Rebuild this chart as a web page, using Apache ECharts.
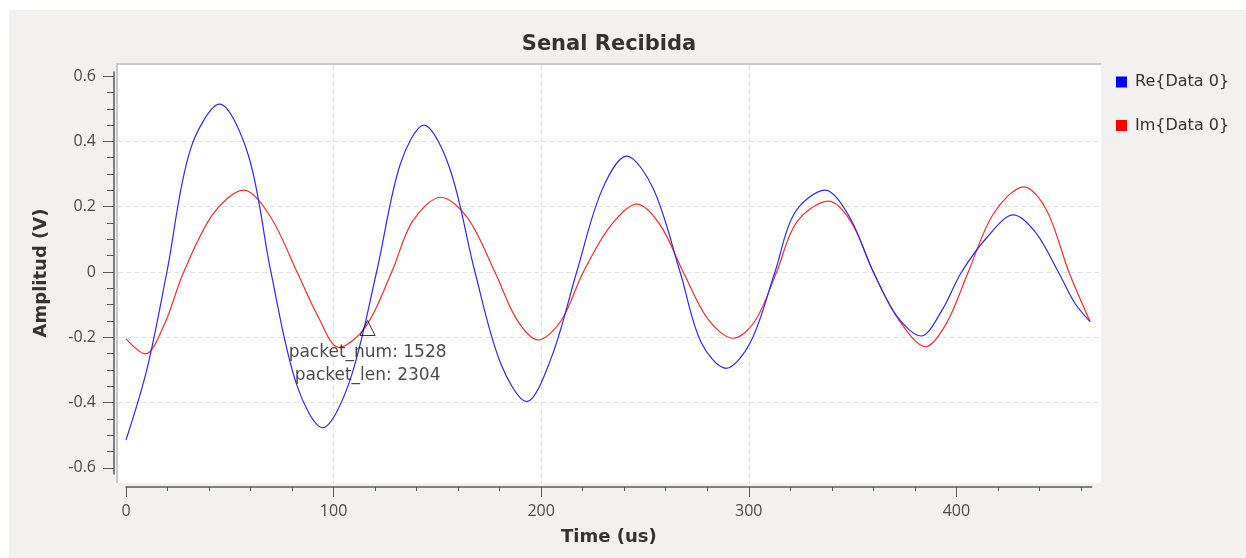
<!DOCTYPE html>
<html>
<head>
<meta charset="utf-8">
<script src="https://cdn.jsdelivr.net/npm/echarts@6/dist/echarts.min.js"></script>
<style>
  html, body { margin: 0; padding: 0; background: #ffffff; }
  #bg { position: absolute; left: 9px; top: 10px; right: 0; bottom: 0; background: #f2f1f0; }
  #chart { position: absolute; left: 0; top: 0; width: 1246px; height: 558px; }
</style>
</head>
<body>
<div id="bg"></div>
<div id="chart"></div>
<script>
// ---- data (time in us, amplitude in V):
//      extrema, zero crossings and points between them ----
const reTime  = [0, 10, 19.7, 31, 45.1, 59, 69.8, 82.2, 94.7, 107.7, 120.7, 132.1, 143.5, 155.8, 168.1, 180.5, 193, 205, 217.1, 229.2,
  241.2, 254, 266.9, 277, 289, 300.8, 312.6, 322, 336.7, 348.4, 360, 371.5, 383, 392.8, 402.5, 415, 427.4, 438.3, 449.1, 457, 464.4];
const reValue = [-0.515, -0.30, 0, 0.375, 0.514, 0.356, 0, -0.345, -0.477, -0.335, 0, 0.33, 0.45, 0.32, 0, -0.28, -0.397, -0.26, 0, 0.25,
  0.355, 0.255, 0, -0.215, -0.295, -0.215, 0, 0.18, 0.251, 0.17, 0, -0.137, -0.196, -0.12, 0, 0.108, 0.175, 0.12, 0, -0.095, -0.152];
const imTime  = [0, 9.3, 18.5, 27.8, 42.2, 56.7, 69.5, 82.4, 92.4, 102.5, 115.2, 128, 138, 151.6, 164.6, 177.7, 188.2, 198.6, 209.5, 220.3,
  233.2, 246, 257.2, 268.4, 280.4, 292.5, 303, 313.4, 323, 338.3, 349.1, 360, 372.6, 385.2, 395.4, 405.7, 418, 432.6, 443.4, 454.2, 464.4];
const imValue = [-0.205, -0.251, -0.16, 0, 0.18, 0.251, 0.17, 0, -0.135, -0.231, -0.17, 0, 0.155, 0.229, 0.165, 0, -0.145, -0.208, -0.15, 0,
  0.14, 0.208, 0.145, 0, -0.145, -0.203, -0.15, 0, 0.152, 0.217, 0.155, 0, -0.15, -0.229, -0.155, 0, 0.18, 0.261, 0.19, 0, -0.152];
const seriesNames = ['Re{Data 0}', 'Im{Data 0}'];
const tagTime  = [113];
const tagValue = [-0.196];
const tagLines = ['packet_num: 1528', 'packet_len: 2304'];
const xMajorTicks = [0, 100, 200, 300, 400];
const xMinorTicks = [20, 40, 60, 80, 120, 140, 160, 180, 220, 240, 260, 280, 320, 340, 360, 380, 420, 440, 460];
const yMajorTicks = [-0.6, -0.4, -0.2, 0, 0.2, 0.4, 0.6];
const yMinorTicks = [-0.55, -0.5, -0.45, -0.35, -0.3, -0.25, -0.15, -0.1, -0.05, 0.05, 0.1, 0.15, 0.25, 0.3, 0.35, 0.45, 0.5, 0.55];
const titleText = 'Senal Recibida';
const xName = 'Time (us)';
const yName = 'Amplitud (V)';

// ---- chart ----
const TICKFONT = '"Open Sans", "Noto Sans", sans-serif';
const TEXTFONT = '"DejaVu Sans", "Noto Sans", sans-serif';
const gridDash = { color: '#e2e2e2', width: 1, type: [5, 3] };
const axisCol = '#5a5a5a';

const zip = (a, b) => a.map((v, i) => [v, b[i]]);

const chart = echarts.init(document.getElementById('chart'), null, { renderer: 'canvas' });
chart.setOption({
  animation: false,
  backgroundColor: 'transparent',
  title: {
    text: titleText, left: 604, top: 29, textAlign: 'center',
    textStyle: { fontFamily: TEXTFONT, fontSize: 21, fontWeight: 'bold', color: '#333333' }
  },
  legend: {
    orient: 'vertical', left: 1116, top: 74, padding: 0,
    icon: 'rect', itemWidth: 11, itemHeight: 11, itemGap: 27.5,
    data: seriesNames,
    textStyle: { fontFamily: TEXTFONT, fontSize: 16, lineHeight: 16, color: '#333333', padding: [0, 0, 0, 3] }
  },
  grid: [
    { left: 116, top: 63, right: 145, bottom: 75, show: true, backgroundColor: '#c9c9c9', borderWidth: 0 },
    { left: 118, top: 65, right: 145, bottom: 75, show: true, backgroundColor: '#ffffff', borderWidth: 0 },
    { left: 126, top: 65, right: 154.3, bottom: 75 },
    { left: 114, top: 72, right: 1000, bottom: 84 }
  ],
  xAxis: [
    { gridIndex: 0, type: 'value', show: false, min: 0, max: 1 },
    { gridIndex: 1, type: 'value', min: -3.853, max: 469.65,
      axisLine: { show: false }, axisLabel: { show: false },
      axisTick: { show: false, customValues: xMajorTicks },
      splitLine: { show: true, showMinLine: false, showMaxLine: false, lineStyle: gridDash } },
    { gridIndex: 2, type: 'value', min: 0, max: 465.2, position: 'bottom', offset: 4,
      axisLine: { show: true, onZero: false, lineStyle: { color: axisCol, width: 1.5 } },
      axisTick: { show: true, length: 10, customValues: xMajorTicks, lineStyle: { color: axisCol } },
      axisLabel: { show: true, customValues: xMajorTicks, margin: 16, fontFamily: TICKFONT, fontSize: 16, color: '#4a4a4a' },
      splitLine: { show: false },
      name: xName, nameLocation: 'middle', nameGap: 41,
      nameTextStyle: { fontFamily: TEXTFONT, fontSize: 18, fontWeight: 'bold', color: '#333333' } },
    { gridIndex: 2, type: 'value', min: 0, max: 465.2, position: 'bottom', offset: 4,
      axisLine: { show: false, onZero: false },
      axisTick: { show: true, length: 4, customValues: xMinorTicks, lineStyle: { color: axisCol } },
      axisLabel: { show: false }, splitLine: { show: false } },
    { gridIndex: 3, type: 'value', show: false, min: 0, max: 1 }
  ],
  yAxis: [
    { gridIndex: 0, type: 'value', show: false, min: 0, max: 1 },
    { gridIndex: 1, type: 'value', min: -0.6463, max: 0.634,
      axisLine: { show: false }, axisLabel: { show: false },
      axisTick: { show: false, customValues: yMajorTicks },
      splitLine: { show: true, showMinLine: false, showMaxLine: false, lineStyle: gridDash } },
    { gridIndex: 2, type: 'value', show: false, min: 0, max: 1 },
    { gridIndex: 3, type: 'value', min: -0.6187, max: 0.6126, position: 'left',
      axisLine: { show: true, onZero: false, lineStyle: { color: axisCol, width: 1.5 } },
      axisTick: { show: true, length: 11, customValues: yMajorTicks, lineStyle: { color: axisCol } },
      axisLabel: { show: true, customValues: yMajorTicks, margin: 18, fontFamily: TICKFONT, fontSize: 16, color: '#4a4a4a',
        formatter: v => (Math.abs(v) < 1e-9 ? '0' : v.toFixed(1)) },
      splitLine: { show: false },
      name: yName, nameLocation: 'middle', nameGap: 64,
      nameTextStyle: { fontFamily: TEXTFONT, fontSize: 18, fontWeight: 'bold', color: '#333333' } },
    { gridIndex: 3, type: 'value', min: -0.6187, max: 0.6126, position: 'left',
      axisLine: { show: false, onZero: false },
      axisTick: { show: true, length: 7, customValues: yMinorTicks, lineStyle: { color: axisCol } },
      axisLabel: { show: false }, splitLine: { show: false } }
  ],
  series: [
    { name: seriesNames[0], type: 'line', xAxisIndex: 1, yAxisIndex: 1,
      data: zip(reTime, reValue), smooth: 0.33, showSymbol: false, symbol: 'none',
      lineStyle: { color: '#2a2aff', width: 1.2 }, itemStyle: { color: '#0000ff' }, z: 3 },
    { name: seriesNames[1], type: 'line', xAxisIndex: 1, yAxisIndex: 1,
      data: zip(imTime, imValue), smooth: 0.33, showSymbol: false, symbol: 'none',
      lineStyle: { color: '#ff2a2a', width: 1.2 }, itemStyle: { color: '#ff0000' }, z: 2 },
    { name: 'tag', type: 'scatter', xAxisIndex: 1, yAxisIndex: 1,
      data: zip(tagTime, tagValue), symbol: 'triangle', symbolSize: 15, symbolOffset: [7, -8],
      itemStyle: { color: 'rgba(0,0,0,0)', borderColor: '#000000', borderWidth: 1 },
      label: { show: true, position: 'bottom', distance: 5, formatter: tagLines.join('\n'),
        fontFamily: TEXTFONT, fontSize: 17, lineHeight: 23, color: '#1a1a1a', align: 'center' },
      z: 5, silent: true }
  ]
});
</script>
</body>
</html>
